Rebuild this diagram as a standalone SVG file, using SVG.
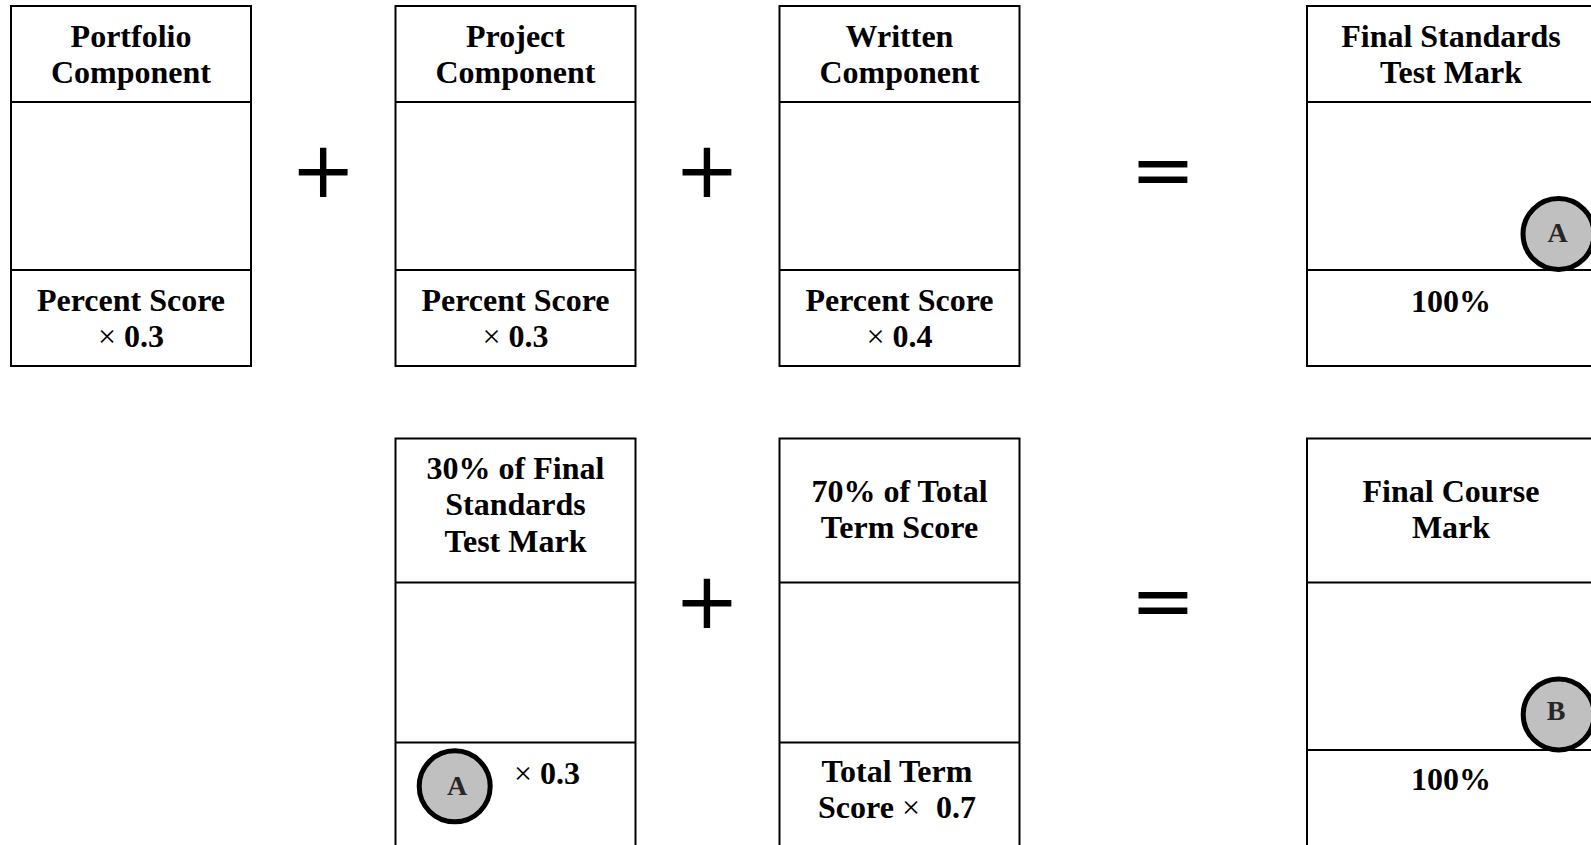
<svg xmlns="http://www.w3.org/2000/svg" width="1591" height="845" viewBox="0 0 1591 845">
<style>
.box{fill:#fff;stroke:#000;stroke-width:2}
.ln{stroke:#000;stroke-width:2}
.t{font-family:"Liberation Serif","Times New Roman",serif;font-weight:bold;font-size:32px;fill:#000;text-anchor:middle}
.x{font-weight:normal}
.op{font-family:"DejaVu Sans",sans-serif;font-size:78px;fill:#000;text-anchor:middle}
.c{fill:#c0c0c0;stroke:#000;stroke-width:5}
.cl{font-family:"Liberation Serif","Times New Roman",serif;font-weight:bold;font-size:28px;fill:#262626;text-anchor:middle}
</style>
<rect width="1591" height="845" fill="#fff"/>
<g id="portfolio">
<rect class="box" x="11" y="6" width="240" height="360"/>
<line class="ln" x1="11" y1="102" x2="251" y2="102"/>
<line class="ln" x1="11" y1="270" x2="251" y2="270"/>
<text class="t" x="131" y="47">Portfolio</text>
<text class="t" x="131" y="83">Component</text>
<text class="t" x="131" y="311">Percent Score</text>
<text class="t" x="131" y="347"><tspan class="x">×</tspan> 0.3</text>
</g>
<g id="project">
<rect class="box" x="395.5" y="6" width="240" height="360"/>
<line class="ln" x1="395.5" y1="102" x2="635.5" y2="102"/>
<line class="ln" x1="395.5" y1="270" x2="635.5" y2="270"/>
<text class="t" x="515.5" y="47">Project</text>
<text class="t" x="515.5" y="83">Component</text>
<text class="t" x="515.5" y="311">Percent Score</text>
<text class="t" x="515.5" y="347"><tspan class="x">×</tspan> 0.3</text>
</g>
<g id="written">
<rect class="box" x="779.5" y="6" width="240" height="360"/>
<line class="ln" x1="779.5" y1="102" x2="1019.5" y2="102"/>
<line class="ln" x1="779.5" y1="270" x2="1019.5" y2="270"/>
<text class="t" x="899.5" y="47">Written</text>
<text class="t" x="899.5" y="83">Component</text>
<text class="t" x="899.5" y="311">Percent Score</text>
<text class="t" x="899.5" y="347"><tspan class="x">×</tspan> 0.4</text>
</g>
<g id="final-standards">
<rect class="box" x="1307" y="6" width="290" height="360"/>
<line class="ln" x1="1307" y1="102" x2="1597" y2="102"/>
<line class="ln" x1="1307" y1="270" x2="1597" y2="270"/>
<text class="t" x="1451" y="47">Final Standards</text>
<text class="t" x="1451" y="83">Test Mark</text>
<text class="t" x="1451" y="312">100%</text>
<circle class="c" cx="1558.5" cy="234" r="35.5"/>
<text class="cl" x="1557.5" y="241.5">A</text>
</g>
<g id="final-standards-30">
<rect class="box" x="395.5" y="438.5" width="240" height="420"/>
<line class="ln" x1="395.5" y1="582.5" x2="635.5" y2="582.5"/>
<line class="ln" x1="395.5" y1="742.5" x2="635.5" y2="742.5"/>
<text class="t" x="515.5" y="478.5">30% of Final</text>
<text class="t" x="515.5" y="515">Standards</text>
<text class="t" x="515.5" y="551.5">Test Mark</text>
<circle class="c" cx="454.7" cy="786.3" r="35.5"/>
<text class="cl" x="457" y="795">A</text>
<text class="t" x="514" y="783.5" style="text-anchor:start"><tspan class="x">×</tspan> 0.3</text>
</g>
<g id="term-score-70">
<rect class="box" x="779.5" y="438.5" width="240" height="420"/>
<line class="ln" x1="779.5" y1="582.5" x2="1019.5" y2="582.5"/>
<line class="ln" x1="779.5" y1="742.5" x2="1019.5" y2="742.5"/>
<text class="t" x="899.5" y="501.7">70% of Total</text>
<text class="t" x="899.5" y="538.3">Term Score</text>
<text class="t" x="897" y="781.7">Total Term</text>
<text class="t" x="897" y="818.3" xml:space="preserve">Score <tspan class="x">×</tspan>  0.7</text>
</g>
<g id="final-course">
<rect class="box" x="1307" y="438.5" width="290" height="420"/>
<line class="ln" x1="1307" y1="582.5" x2="1597" y2="582.5"/>
<line class="ln" x1="1307" y1="750" x2="1597" y2="750"/>
<text class="t" x="1451" y="501.7">Final Course</text>
<text class="t" x="1451" y="538.3">Mark</text>
<text class="t" x="1451" y="790">100%</text>
<circle class="c" cx="1558.7" cy="714.5" r="35.5"/>
<text class="cl" x="1556" y="719.5">B</text>
</g>
<g id="connectors">
<text class="op" x="323.3" y="196.5">+</text>
<text class="op" x="707" y="196.5">+</text>
<text class="op" x="1163" y="196.5">=</text>
<text class="op" x="707" y="628">+</text>
<text class="op" x="1163" y="628">=</text>
</g>
</svg>
